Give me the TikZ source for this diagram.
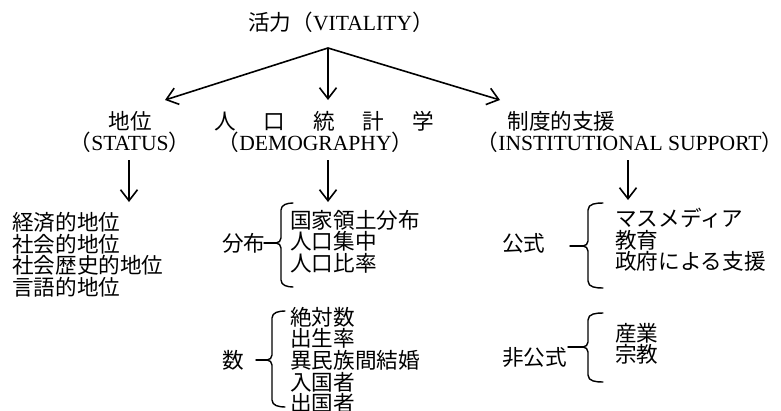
\documentclass[tikz,border=0pt]{standalone}
\usepackage{fontspec}
\setmainfont{Liberation Serif}
\newfontfamily\jp{Noto Sans CJK JP}
\usetikzlibrary{arrows.meta}
\newcommand\jbrace[6]{%
  \draw[bracestyle] (#3,#4) to[out=180,in=90] (#2,#4+7) -- (#2,#5-5)
    to[out=-90,in=0] (#2-5,#5) to[out=0,in=90] (#2,#5+5) -- (#2,#6-7)
    to[out=-90,in=180] (#3,#6);
  \draw[bracestyle] (#1,#5) -- (#2-5,#5);}
\tikzset{
  basetext/.style={inner sep=0pt, font=\fontsize{21.6}{21.6}\selectfont},
  jtext/.style={inner sep=0pt, font=\jp\fontsize{21.6}{21.6}\selectfont},
  listtext/.style={jtext, align=left, anchor=north west},
  arr/.style={line width=1.6pt, -{Straight Barb[length=11pt,width=17pt]}},
  bracestyle/.style={line width=1.4pt, line join=round, line cap=round}
}
\begin{document}
\begin{tikzpicture}[x=1pt,y=-1pt]
\useasboundingbox (0,0) rectangle (781,410);
% title
\node[basetext] (vit) at (341,22) {{\jp 活力（}VITALITY{\jp ）}};
\coordinate (split) at (328,48);
\coordinate (tl) at (165,100);
\coordinate (tc) at (328,100);
\coordinate (tr) at (500,100);
\draw[arr] (split) -- (tl);
\draw[arr] (split) -- (tc);
\draw[arr] (split) -- (tr);
% headings
\node[jtext] (st1) at (130,121) {地位};
\node[basetext] (st2) at (130,142) {{\jp （}STATUS{\jp ）}};
\node[jtext] (dm1) at (324,121) {人\hspace{27.9pt}口\hspace{27.9pt}統\hspace{27.9pt}計\hspace{27.9pt}学};
\node[basetext] (dm2) at (315.5,142) {{\jp （}DEMOGRAPHY{\jp ）}};
\node[jtext] (in1) at (561.5,121) {制度的支援};
\node[basetext] (in2) at (630,142) {{\jp （}INSTITUTIONAL SUPPORT{\jp ）}};
% arrows below headings
\coordinate (sa1) at (129,160); \coordinate (sa2) at (129,202);
\coordinate (da1) at (328,160); \coordinate (da2) at (328,202);
\coordinate (ia1) at (628,160); \coordinate (ia2) at (628,200);
\draw[arr] (sa1) -- (sa2);
\draw[arr] (da1) -- (da2);
\draw[arr] (ia1) -- (ia2);
% status list
\node[listtext] (stl) at (12,212) {経済的地位\\社会的地位\\社会歴史的地位\\言語的地位};
% demography
\node[jtext, anchor=west] (bun) at (222,243) {分布};
\node[listtext] (bunl) at (290,210) {国家領土分布\\人口集中\\人口比率};
\jbrace{264}{281}{293}{203}{243}{287}
\node[jtext, anchor=west] (kazu) at (222,360) {数};
\node[listtext] (kazul) at (290,307) {絶対数\\出生率\\異民族間結婚\\入国者\\出国者};
\jbrace{256}{272}{285}{311}{360}{407}
% institutional
\node[jtext, anchor=west] (kou) at (502,243) {公式};
\node[listtext] (koul) at (615,208) {マスメディア\\教育\\政府による支援};
\jbrace{570}{588}{603}{203}{246}{288}
\node[jtext, anchor=west] (hikou) at (502,357) {非公式};
\node[listtext] (hikoul) at (615,323) {産業\\宗教};
\jbrace{568}{588}{603}{313}{347}{382}
\end{tikzpicture}
\end{document}
